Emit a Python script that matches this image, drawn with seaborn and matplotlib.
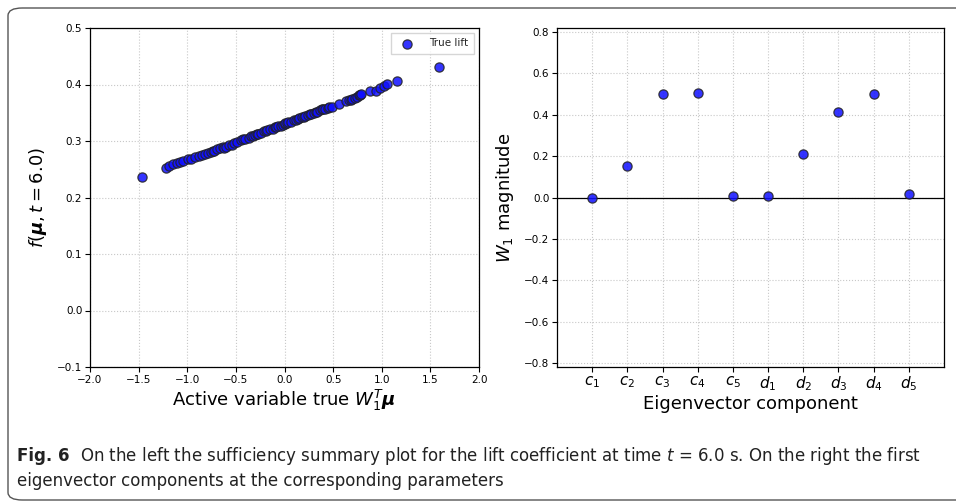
import matplotlib
matplotlib.use("Agg")
import matplotlib.pyplot as plt
from matplotlib.patches import FancyBboxPatch
import seaborn as sns
import pandas as pd

# --- Data ---
active_x = [-1.47, -1.22, -1.19, -1.15, -1.11, -1.07, -1.04, -0.99, -0.96, -0.92,
            -0.88, -0.85, -0.82, -0.79, -0.76, -0.74, -0.72, -0.69, -0.66, -0.63,
            -0.62, -0.60, -0.57, -0.54, -0.52, -0.49, -0.45, -0.43, -0.41, -0.37,
            -0.34, -0.32, -0.30, -0.28, -0.27, -0.24, -0.21, -0.19, -0.18, -0.15,
            -0.12, -0.10, -0.09, -0.07, -0.04, -0.02, 0.00, 0.01, 0.03, 0.04,
            0.07, 0.10, 0.12, 0.14, 0.15, 0.18, 0.20, 0.21, 0.24, 0.26,
            0.27, 0.30, 0.32, 0.33, 0.36, 0.39, 0.40, 0.42, 0.45, 0.46,
            0.49, 0.56, 0.63, 0.66, 0.68, 0.69, 0.72, 0.75, 0.77, 0.78,
            0.79, 0.88, 0.94, 0.98, 1.02, 1.05, 1.16, 1.59]
true_lift = [0.237, 0.252, 0.256, 0.259, 0.261, 0.263, 0.265, 0.268, 0.269, 0.272,
             0.274, 0.276, 0.277, 0.279, 0.281, 0.282, 0.283, 0.285, 0.287, 0.289,
             0.288, 0.290, 0.293, 0.293, 0.297, 0.299, 0.301, 0.303, 0.304, 0.305,
             0.308, 0.309, 0.311, 0.312, 0.313, 0.315, 0.317, 0.318, 0.319, 0.321,
             0.322, 0.324, 0.325, 0.326, 0.327, 0.329, 0.330, 0.331, 0.332, 0.333,
             0.334, 0.337, 0.338, 0.339, 0.340, 0.342, 0.343, 0.344, 0.346, 0.347,
             0.348, 0.350, 0.351, 0.352, 0.354, 0.356, 0.356, 0.357, 0.359, 0.360,
             0.361, 0.366, 0.371, 0.373, 0.373, 0.374, 0.376, 0.378, 0.381, 0.382,
             0.383, 0.389, 0.388, 0.394, 0.398, 0.401, 0.406, 0.431]

components = ['$c_1$', '$c_2$', '$c_3$', '$c_4$', '$c_5$',
              '$d_1$', '$d_2$', '$d_3$', '$d_4$', '$d_5$']
w1_values = [-0.003, 0.150, 0.503, 0.506, 0.005, 0.005, 0.209, 0.415, 0.500, 0.017]

sns.set_style("ticks")
plt.rcParams['font.family'] = ['DejaVu Sans']

fig = plt.figure(figsize=(9.56, 5.04), dpi=100)

# caption frame
frame = FancyBboxPatch((8 / 956, 4 / 504), 1.2, 492 / 504,
                       boxstyle="round,pad=0,rounding_size=0.015",
                       transform=fig.transFigure, fill=False,
                       edgecolor='#555555', linewidth=1.0, clip_on=False)
fig.patches.append(frame)

point_style = dict(color='#1010ff', edgecolor='#222222', linewidth=0.9,
                   alpha=0.85, s=44)
grid_style = dict(color='#c8c8c8', linestyle=':', linewidth=0.8)

# --- Left panel: sufficiency summary plot ---
ax1 = fig.add_axes([90 / 956, 1 - 367 / 504, 389 / 956, 339 / 504])
df_left = pd.DataFrame({'x': active_x, 'y': true_lift})
sns.scatterplot(data=df_left, x='x', y='y', ax=ax1, label='True lift', **point_style)
ax1.set_xlim(-2.0, 2.0)
ax1.set_ylim(-0.1, 0.5)
ax1.set_xticks([-2.0, -1.5, -1.0, -0.5, 0.0, 0.5, 1.0, 1.5, 2.0])
ax1.set_yticks([-0.1, 0.0, 0.1, 0.2, 0.3, 0.4, 0.5])
ax1.grid(True, **grid_style)
ax1.set_xlabel(r'Active variable true $W_1^T\boldsymbol{\mu}$', fontsize=13, labelpad=2)
ax1.set_ylabel(r'$f(\boldsymbol{\mu}, t = 6.0)$', fontsize=13, labelpad=6)
ax1.tick_params(labelsize=7.5, length=3.5, width=0.8, pad=2, colors='black')
ax1.legend(loc='upper right', fontsize=7.5, frameon=True, fancybox=False,
           edgecolor='#cccccc', handletextpad=1.2, borderpad=0.5)

# --- Right panel: first eigenvector components ---
ax2 = fig.add_axes([557 / 956, 1 - 367 / 504, 387 / 956, 339 / 504])
df_right = pd.DataFrame({'pos': list(range(len(components))), 'w': w1_values})
ax2.axhline(0, color='black', linewidth=0.9, zorder=1)
sns.scatterplot(data=df_right, x='pos', y='w', ax=ax2, zorder=3, **point_style)
ax2.set_xlim(-1, len(components))
ax2.set_ylim(-0.82, 0.82)
ax2.set_xticks(range(len(components)))
ax2.set_xticklabels(components, fontsize=11)
ax2.set_yticks([-0.8, -0.6, -0.4, -0.2, 0.0, 0.2, 0.4, 0.6, 0.8])
ax2.grid(True, **grid_style)
ax2.set_xlabel('Eigenvector component', fontsize=13, labelpad=1)
ax2.set_ylabel('$W_1$ magnitude', fontsize=13, labelpad=6)
ax2.tick_params(axis='y', labelsize=7.5, length=3.5, width=0.8, pad=2, colors='black')
ax2.tick_params(axis='x', length=3.5, width=0.8, pad=2, colors='black')

for ax in (ax1, ax2):
    ax.xaxis.label.set_color('black')
    ax.yaxis.label.set_color('black')
    for sp in ax.spines.values():
        sp.set_visible(True)
        sp.set_linewidth(0.9)
        sp.set_color('black')

# --- Caption ---
cap_font = ['DejaVu Sans']
fig.text(17 / 956, 1 - 456 / 504, 'Fig. 6', fontsize=12, fontweight='bold',
         family=cap_font, va='center', ha='left', color='#222222')
fig.text(80 / 956, 1 - 456 / 504,
         'On the left the sufficiency summary plot for the lift coefficient at time $t$ = 6.0 s. '
         'On the right the first',
         fontsize=12, family=cap_font, va='center', ha='left', color='#222222')
fig.text(17 / 956, 1 - 481 / 504, 'eigenvector components at the corresponding parameters',
         fontsize=12, family=cap_font, va='center', ha='left', color='#222222')

fig.savefig('out.png', dpi=100)
